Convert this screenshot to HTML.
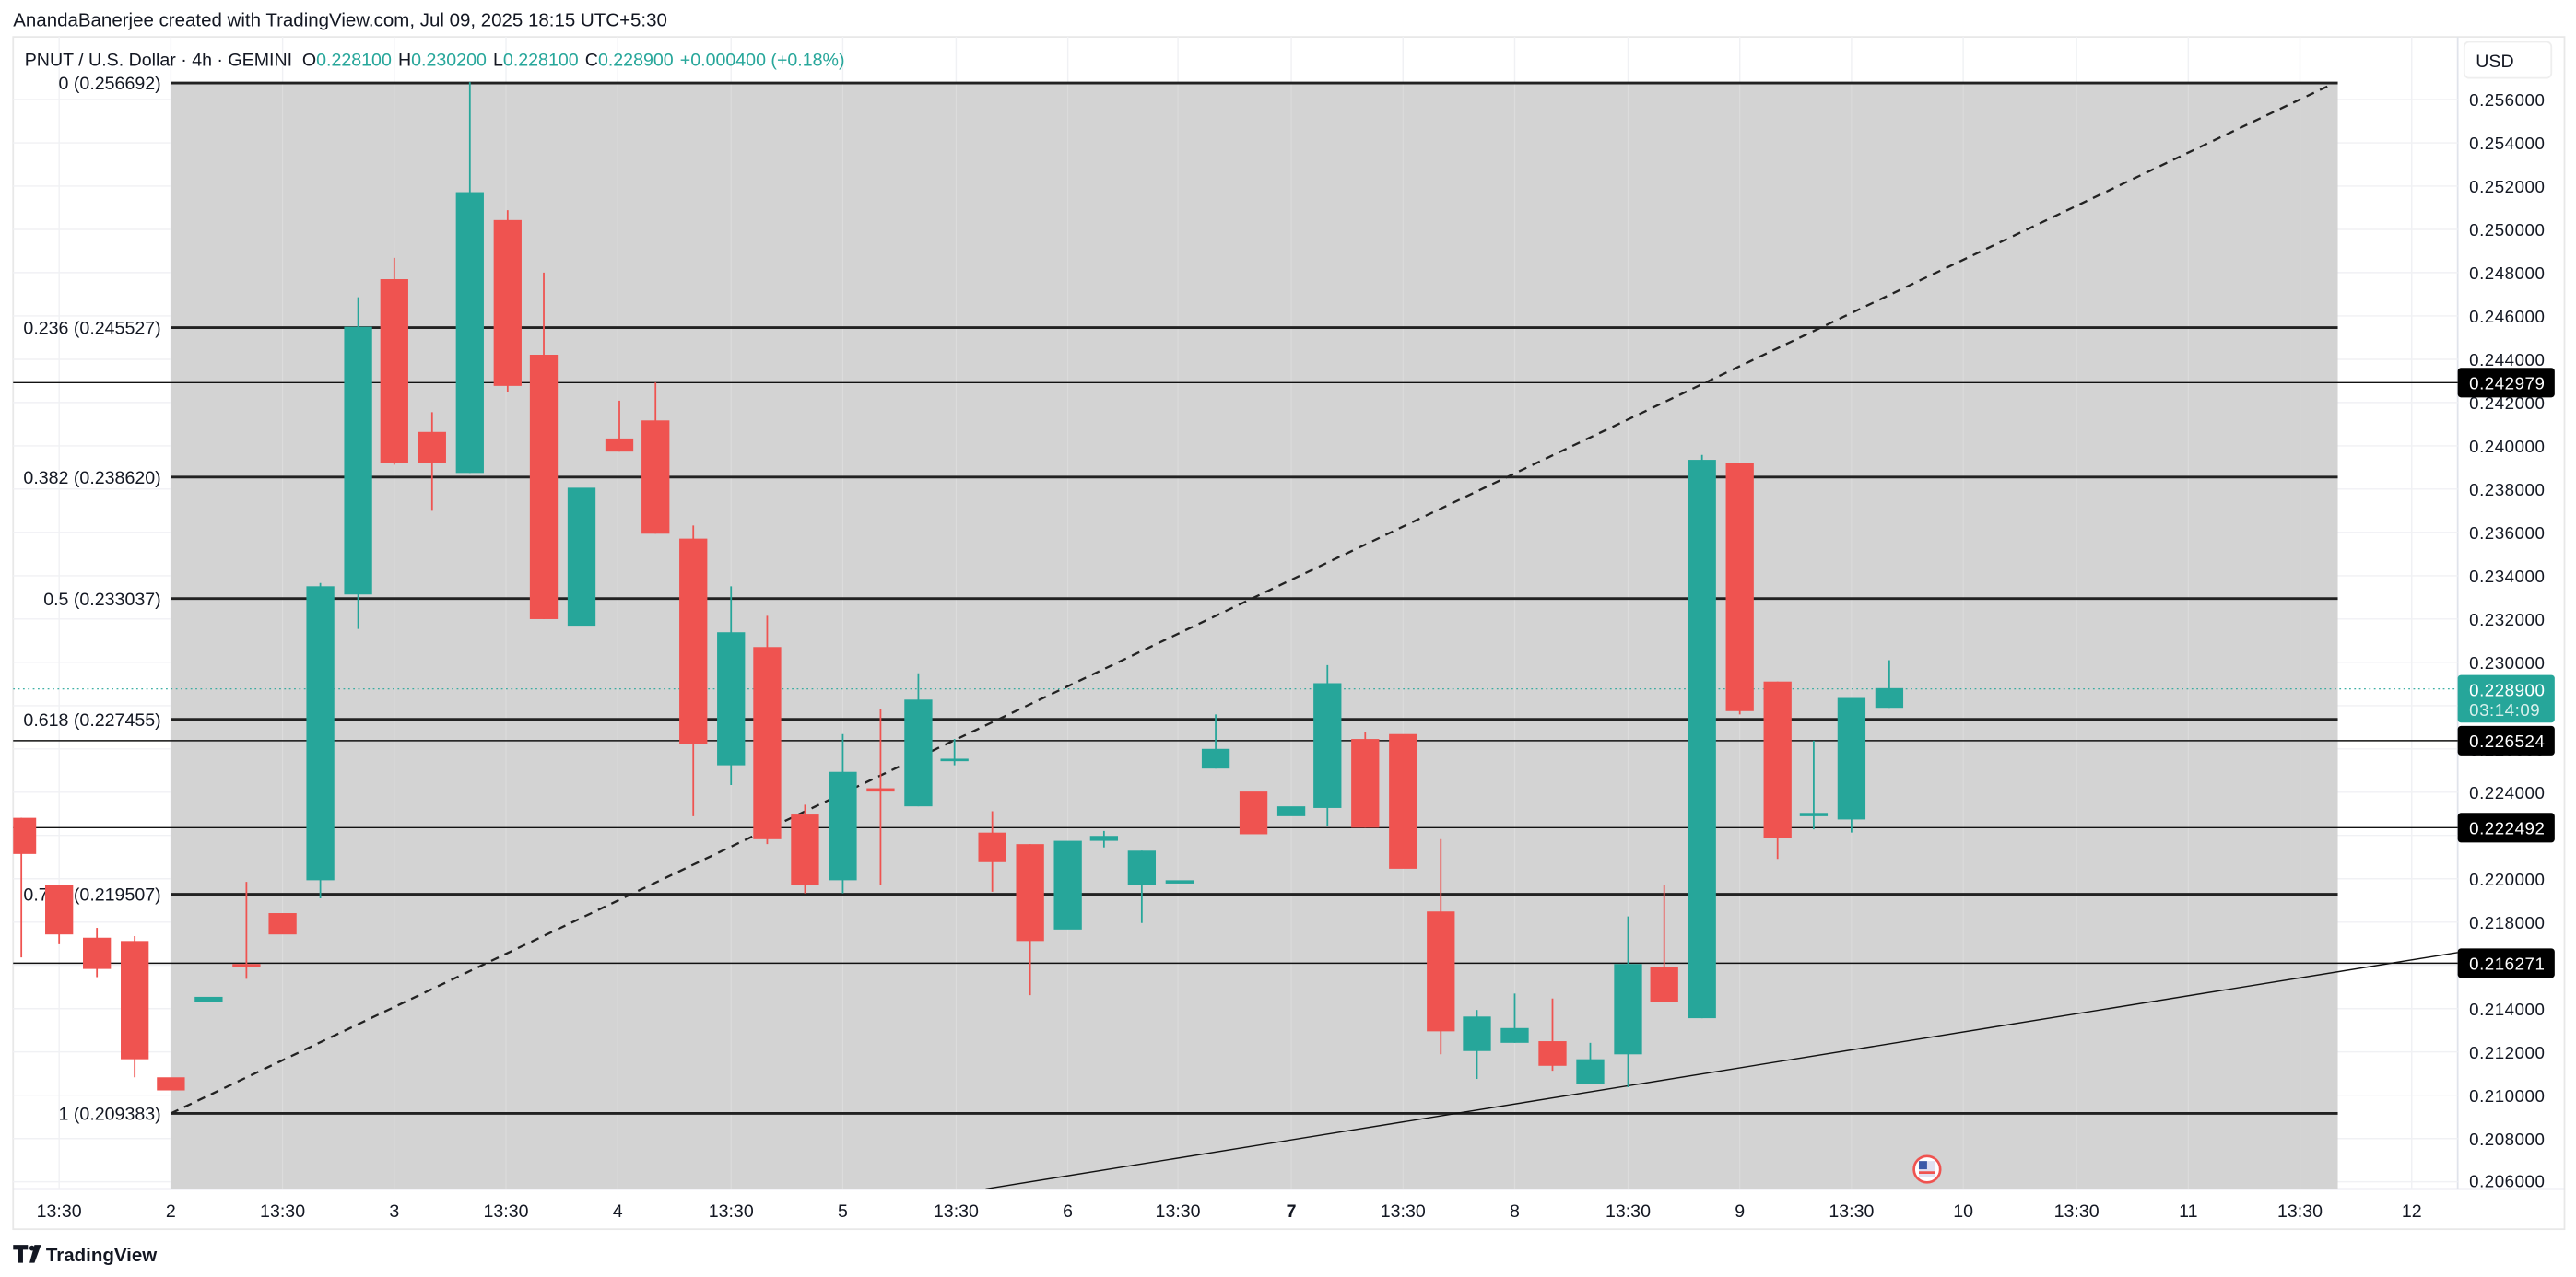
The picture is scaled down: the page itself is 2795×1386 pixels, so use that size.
<!DOCTYPE html>
<html><head><meta charset="utf-8"><style>
html,body{margin:0;padding:0;background:#fff;width:2795px;height:1386px;overflow:hidden}
svg{display:block}
text{font-family:"Liberation Sans",sans-serif}
</style></head><body>
<svg width="2795" height="1386" viewBox="0 0 1568 777.6" preserveAspectRatio="none" xmlns="http://www.w3.org/2000/svg">
<rect x="0" y="0" width="1568" height="778" fill="#fff"/>
<text x="8" y="16" font-size="11.5" fill="#131722">AnandaBanerjee created with TradingView.com, Jul 09, 2025 18:15 UTC+5:30</text>
<rect x="8" y="22.5" width="1553" height="726" fill="none" stroke="#e8e8e8" stroke-width="1"/>
<line x1="1496" y1="22.5" x2="1496" y2="724" stroke="#e0e3eb"/>
<line x1="8" y1="724" x2="1561" y2="724" stroke="#e0e3eb"/>
<g stroke="#f0f1f4" stroke-width="0.8">
<line x1="8" x2="1496" y1="60.6" y2="60.6"/><line x1="8" x2="1496" y1="87" y2="87"/><line x1="8" x2="1496" y1="113.3" y2="113.3"/><line x1="8" x2="1496" y1="139.7" y2="139.7"/><line x1="8" x2="1496" y1="166" y2="166"/><line x1="8" x2="1496" y1="192.4" y2="192.4"/><line x1="8" x2="1496" y1="218.8" y2="218.8"/><line x1="8" x2="1496" y1="245.1" y2="245.1"/><line x1="8" x2="1496" y1="271.5" y2="271.5"/><line x1="8" x2="1496" y1="297.8" y2="297.8"/><line x1="8" x2="1496" y1="324.2" y2="324.2"/><line x1="8" x2="1496" y1="350.6" y2="350.6"/><line x1="8" x2="1496" y1="376.9" y2="376.9"/><line x1="8" x2="1496" y1="403.3" y2="403.3"/><line x1="8" x2="1496" y1="429.7" y2="429.7"/><line x1="8" x2="1496" y1="456" y2="456"/><line x1="8" x2="1496" y1="482.4" y2="482.4"/><line x1="8" x2="1496" y1="508.7" y2="508.7"/><line x1="8" x2="1496" y1="535.1" y2="535.1"/><line x1="8" x2="1496" y1="561.5" y2="561.5"/><line x1="8" x2="1496" y1="587.8" y2="587.8"/><line x1="8" x2="1496" y1="614.2" y2="614.2"/><line x1="8" x2="1496" y1="640.5" y2="640.5"/><line x1="8" x2="1496" y1="666.9" y2="666.9"/><line x1="8" x2="1496" y1="693.3" y2="693.3"/><line x1="8" x2="1496" y1="719.6" y2="719.6"/>
</g>
<g stroke="#f0f1f4" stroke-width="0.8">
<line y1="22.5" y2="724" x1="36" x2="36"/><line y1="22.5" y2="724" x1="104" x2="104"/><line y1="22.5" y2="724" x1="172" x2="172"/><line y1="22.5" y2="724" x1="240" x2="240"/><line y1="22.5" y2="724" x1="308" x2="308"/><line y1="22.5" y2="724" x1="376" x2="376"/><line y1="22.5" y2="724" x1="445" x2="445"/><line y1="22.5" y2="724" x1="513" x2="513"/><line y1="22.5" y2="724" x1="582" x2="582"/><line y1="22.5" y2="724" x1="650" x2="650"/><line y1="22.5" y2="724" x1="717" x2="717"/><line y1="22.5" y2="724" x1="786" x2="786"/><line y1="22.5" y2="724" x1="854" x2="854"/><line y1="22.5" y2="724" x1="922" x2="922"/><line y1="22.5" y2="724" x1="991" x2="991"/><line y1="22.5" y2="724" x1="1059" x2="1059"/><line y1="22.5" y2="724" x1="1127" x2="1127"/><line y1="22.5" y2="724" x1="1195" x2="1195"/><line y1="22.5" y2="724" x1="1264" x2="1264"/><line y1="22.5" y2="724" x1="1332" x2="1332"/><line y1="22.5" y2="724" x1="1400" x2="1400"/><line y1="22.5" y2="724" x1="1468" x2="1468"/>
</g>
<rect x="104" y="50.5" width="1319" height="673.5" fill="#d3d3d3"/>
<g stroke="#e0e0e0" stroke-width="0.6" opacity="0.7">
<line y1="50.5" y2="724" x1="172" x2="172"/><line y1="50.5" y2="724" x1="240" x2="240"/><line y1="50.5" y2="724" x1="308" x2="308"/><line y1="50.5" y2="724" x1="376" x2="376"/><line y1="50.5" y2="724" x1="445" x2="445"/><line y1="50.5" y2="724" x1="513" x2="513"/><line y1="50.5" y2="724" x1="582" x2="582"/><line y1="50.5" y2="724" x1="650" x2="650"/><line y1="50.5" y2="724" x1="717" x2="717"/><line y1="50.5" y2="724" x1="786" x2="786"/><line y1="50.5" y2="724" x1="854" x2="854"/><line y1="50.5" y2="724" x1="922" x2="922"/><line y1="50.5" y2="724" x1="991" x2="991"/><line y1="50.5" y2="724" x1="1059" x2="1059"/><line y1="50.5" y2="724" x1="1127" x2="1127"/><line y1="50.5" y2="724" x1="1195" x2="1195"/><line y1="50.5" y2="724" x1="1264" x2="1264"/><line y1="50.5" y2="724" x1="1332" x2="1332"/><line y1="50.5" y2="724" x1="1400" x2="1400"/>
</g>
<g stroke="#222" stroke-width="1.6">
<line x1="104" x2="1423" y1="50.5" y2="50.5"/>
<line x1="104" x2="1423" y1="199.5" y2="199.5"/>
<line x1="104" x2="1423" y1="290.5" y2="290.5"/>
<line x1="104" x2="1423" y1="364.5" y2="364.5"/>
<line x1="104" x2="1423" y1="438" y2="438"/>
<line x1="104" x2="1423" y1="544.5" y2="544.5"/>
<line x1="104" x2="1423" y1="678" y2="678"/>
</g>
<g font-size="11" fill="#131722" text-anchor="end">
<text x="98" y="54.5">0 (0.256692)</text>
<text x="98" y="203.5">0.236 (0.245527)</text>
<text x="98" y="294.5">0.382 (0.238620)</text>
<text x="98" y="368.5">0.5 (0.233037)</text>
<text x="98" y="442">0.618 (0.227455)</text>
<text x="98" y="548.5">0.786 (0.219507)</text>
<text x="98" y="682">1 (0.209383)</text>
</g>
<g stroke="#111" stroke-width="0.8">
<line x1="8" x2="1496" y1="233" y2="233"/>
<line x1="8" x2="1496" y1="451" y2="451"/>
<line x1="8" x2="1496" y1="504" y2="504"/>
<line x1="8" x2="1496" y1="586.5" y2="586.5"/>
<line x1="600" y1="724" x2="1496" y2="580" />
</g>
<line x1="104" y1="678" x2="1420" y2="51" stroke="#222" stroke-width="1.3" stroke-dasharray="5,4"/>
<line x1="8" x2="1496" y1="419.5" y2="419.5" stroke="#26a69a" stroke-width="0.6" stroke-dasharray="1,2"/>
<g stroke-width="1">
<g fill="#ef5350" stroke="#ef5350">
<line x1="13" x2="13" y1="498" y2="583"/><rect x="8" y="498" width="14" height="22" stroke="none"/>
<line x1="36" x2="36" y1="539" y2="575"/><rect x="27.5" y="539" width="17" height="30" stroke="none"/>
<line x1="59" x2="59" y1="565" y2="595"/><rect x="50.5" y="571" width="17" height="19" stroke="none"/>
<line x1="82" x2="82" y1="570" y2="656"/><rect x="73.5" y="573" width="17" height="72" stroke="none"/>
<rect x="95.5" y="656" width="17" height="8" stroke="none"/>
<line x1="150" x2="150" y1="537" y2="596"/><rect x="141.5" y="587" width="17" height="2" stroke="none"/>
<rect x="163.5" y="556" width="17" height="13" stroke="none"/>
<line x1="240" x2="240" y1="157" y2="283"/><rect x="231.5" y="170" width="17" height="112" stroke="none"/>
<line x1="263" x2="263" y1="251" y2="311"/><rect x="254.5" y="263" width="17" height="19" stroke="none"/>
<line x1="309" x2="309" y1="128" y2="239"/><rect x="300.5" y="134" width="17" height="101" stroke="none"/>
<line x1="331" x2="331" y1="166" y2="377"/><rect x="322.5" y="216" width="17" height="161" stroke="none"/>
<line x1="377" x2="377" y1="244" y2="275"/><rect x="368.5" y="267" width="17" height="8" stroke="none"/>
<line x1="399" x2="399" y1="233" y2="325"/><rect x="390.5" y="256" width="17" height="69" stroke="none"/>
<line x1="422" x2="422" y1="320" y2="497"/><rect x="413.5" y="328" width="17" height="125" stroke="none"/>
<line x1="467" x2="467" y1="375" y2="514"/><rect x="458.5" y="394" width="17" height="117" stroke="none"/>
<line x1="490" x2="490" y1="490" y2="544"/><rect x="481.5" y="496" width="17" height="43" stroke="none"/>
<line x1="536" x2="536" y1="432" y2="539"/><rect x="527.5" y="480" width="17" height="2" stroke="none"/>
<line x1="604" x2="604" y1="494" y2="543"/><rect x="595.5" y="507" width="17" height="18" stroke="none"/>
<line x1="627" x2="627" y1="514" y2="606"/><rect x="618.5" y="514" width="17" height="59" stroke="none"/>
<rect x="754.5" y="482" width="17" height="26" stroke="none"/>
<line x1="831" x2="831" y1="446" y2="504"/><rect x="822.5" y="450" width="17" height="54" stroke="none"/>
<rect x="845.5" y="447" width="17" height="82" stroke="none"/>
<line x1="877" x2="877" y1="511" y2="642"/><rect x="868.5" y="555" width="17" height="73" stroke="none"/>
<line x1="945" x2="945" y1="608" y2="652"/><rect x="936.5" y="634" width="17" height="15" stroke="none"/>
<line x1="1013" x2="1013" y1="539" y2="610"/><rect x="1004.5" y="589" width="17" height="21" stroke="none"/>
<line x1="1059" x2="1059" y1="282" y2="435"/><rect x="1050.5" y="282" width="17" height="151" stroke="none"/>
<line x1="1082" x2="1082" y1="415" y2="523"/><rect x="1073.5" y="415" width="17" height="95" stroke="none"/>
</g>
<g fill="#26a69a" stroke="#26a69a">
<rect x="118.5" y="607" width="17" height="3" stroke="none"/>
<line x1="195" x2="195" y1="355" y2="547"/><rect x="186.5" y="357" width="17" height="179" stroke="none"/>
<line x1="218" x2="218" y1="181" y2="383"/><rect x="209.5" y="199" width="17" height="163" stroke="none"/>
<line x1="286" x2="286" y1="50" y2="288"/><rect x="277.5" y="117" width="17" height="171" stroke="none"/>
<rect x="345.5" y="297" width="17" height="84" stroke="none"/>
<line x1="445" x2="445" y1="357" y2="478"/><rect x="436.5" y="385" width="17" height="81" stroke="none"/>
<line x1="513" x2="513" y1="447" y2="544"/><rect x="504.5" y="470" width="17" height="66" stroke="none"/>
<line x1="559" x2="559" y1="410" y2="491"/><rect x="550.5" y="426" width="17" height="65" stroke="none"/>
<line x1="581" x2="581" y1="450" y2="466"/><rect x="572.5" y="462" width="17" height="1.5" stroke="none"/>
<rect x="641.5" y="512" width="17" height="54" stroke="none"/>
<line x1="672" x2="672" y1="506" y2="516"/><rect x="663.5" y="509" width="17" height="3" stroke="none"/>
<line x1="695" x2="695" y1="518" y2="562"/><rect x="686.5" y="518" width="17" height="21" stroke="none"/>
<rect x="709.5" y="536" width="17" height="2" stroke="none"/>
<line x1="740" x2="740" y1="435" y2="468"/><rect x="731.5" y="456" width="17" height="12" stroke="none"/>
<rect x="777.5" y="491" width="17" height="6" stroke="none"/>
<line x1="808" x2="808" y1="405" y2="503"/><rect x="799.5" y="416" width="17" height="76" stroke="none"/>
<line x1="899" x2="899" y1="615" y2="657"/><rect x="890.5" y="619" width="17" height="21" stroke="none"/>
<line x1="922" x2="922" y1="605" y2="635"/><rect x="913.5" y="626" width="17" height="9" stroke="none"/>
<line x1="968" x2="968" y1="635" y2="660"/><rect x="959.5" y="645" width="17" height="15" stroke="none"/>
<line x1="991" x2="991" y1="558" y2="662"/><rect x="982.5" y="587" width="17" height="55" stroke="none"/>
<line x1="1036" x2="1036" y1="277" y2="620"/><rect x="1027.5" y="280" width="17" height="340" stroke="none"/>
<line x1="1104" x2="1104" y1="451" y2="505"/><rect x="1095.5" y="495" width="17" height="2" stroke="none"/>
<line x1="1127" x2="1127" y1="425" y2="507"/><rect x="1118.5" y="425" width="17" height="74" stroke="none"/>
<line x1="1150" x2="1150" y1="402" y2="431"/><rect x="1141.5" y="419" width="17" height="12" stroke="none"/>
</g>
</g>
<circle cx="1173" cy="712" r="8" fill="#fff" stroke="#ef5350" stroke-width="1.5"/>
<rect x="1168" y="707" width="10" height="10" fill="#e0e0f0"/>
<rect x="1168" y="707" width="5" height="5" fill="#3d5aa8"/>
<line x1="1168" x2="1178" y1="714" y2="714" stroke="#ef5350" stroke-width="1.5"/>
<text x="15" y="40" font-size="11" fill="#131722">PNUT / U.S. Dollar · 4h · GEMINI <tspan dx="3">O</tspan><tspan fill="#26a69a">0.228100</tspan><tspan dx="4">H</tspan><tspan fill="#26a69a">0.230200</tspan><tspan dx="4">L</tspan><tspan fill="#26a69a">0.228100</tspan><tspan dx="4">C</tspan><tspan fill="#26a69a">0.228900</tspan><tspan dx="4" fill="#26a69a">+0.000400 (+0.18%)</tspan></text>
<rect x="1500" y="25.5" width="53" height="22" rx="3" fill="#fff" stroke="#eee"/>
<text x="1507" y="41" font-size="11" fill="#131722">USD</text>
<g font-size="10.5" fill="#131722" letter-spacing="0.3">
<text x="1503" y="64.5">0.256000</text><text x="1503" y="91">0.254000</text><text x="1503" y="117.3">0.252000</text><text x="1503" y="143.7">0.250000</text><text x="1503" y="170">0.248000</text><text x="1503" y="196.4">0.246000</text><text x="1503" y="222.8">0.244000</text><text x="1503" y="249.1">0.242000</text><text x="1503" y="275.5">0.240000</text><text x="1503" y="301.8">0.238000</text><text x="1503" y="328.2">0.236000</text><text x="1503" y="354.6">0.234000</text><text x="1503" y="380.9">0.232000</text><text x="1503" y="407.3">0.230000</text><text x="1503" y="460">0.226000</text><text x="1503" y="486.4">0.224000</text><text x="1503" y="512.7">0.222000</text><text x="1503" y="539.1">0.220000</text><text x="1503" y="565.5">0.218000</text><text x="1503" y="618.2">0.214000</text><text x="1503" y="644.5">0.212000</text><text x="1503" y="670.9">0.210000</text><text x="1503" y="697.3">0.208000</text><text x="1503" y="723">0.206000</text>
</g>
<rect x="1496" y="224" width="59" height="18" rx="2" fill="#000"/>
<text x="1503" y="237" font-size="10.5" fill="#fff" letter-spacing="0.3">0.242979</text>
<rect x="1496" y="411" width="59" height="29" rx="2" fill="#26a69a"/>
<text x="1503" y="424" font-size="10.5" fill="#fff" letter-spacing="0.3">0.228900</text>
<text x="1503" y="436" font-size="10.5" fill="#d8f0ec" letter-spacing="0.3">03:14:09</text>
<rect x="1496" y="442" width="59" height="18" rx="2" fill="#000"/>
<text x="1503" y="455" font-size="10.5" fill="#fff" letter-spacing="0.3">0.226524</text>
<rect x="1496" y="495" width="59" height="18" rx="2" fill="#000"/>
<text x="1503" y="508" font-size="10.5" fill="#fff" letter-spacing="0.3">0.222492</text>
<rect x="1496" y="577.5" width="59" height="18" rx="2" fill="#000"/>
<text x="1503" y="590.5" font-size="10.5" fill="#fff" letter-spacing="0.3">0.216271</text>
<g font-size="11" fill="#131722" text-anchor="middle">
<text x="36" y="741">13:30</text><text x="104" y="741">2</text><text x="172" y="741">13:30</text><text x="240" y="741">3</text><text x="308" y="741">13:30</text><text x="376" y="741">4</text><text x="445" y="741">13:30</text><text x="513" y="741">5</text><text x="582" y="741">13:30</text><text x="650" y="741">6</text><text x="717" y="741">13:30</text><text x="786" y="741" font-weight="bold">7</text><text x="854" y="741">13:30</text><text x="922" y="741">8</text><text x="991" y="741">13:30</text><text x="1059" y="741">9</text><text x="1127" y="741">13:30</text><text x="1195" y="741">10</text><text x="1264" y="741">13:30</text><text x="1332" y="741">11</text><text x="1400" y="741">13:30</text><text x="1468" y="741">12</text>
</g>
<path d="M8 758h9v3h-3v8h-3v-8h-3z" fill="#131722"/>
<circle cx="19.5" cy="760" r="1.6" fill="#131722"/>
<path d="M21 758h4l-4 11h-3z" fill="#131722"/>
<text x="28" y="768" font-size="11.5" font-weight="bold" fill="#131722">TradingView</text>
</svg>
</body></html>
